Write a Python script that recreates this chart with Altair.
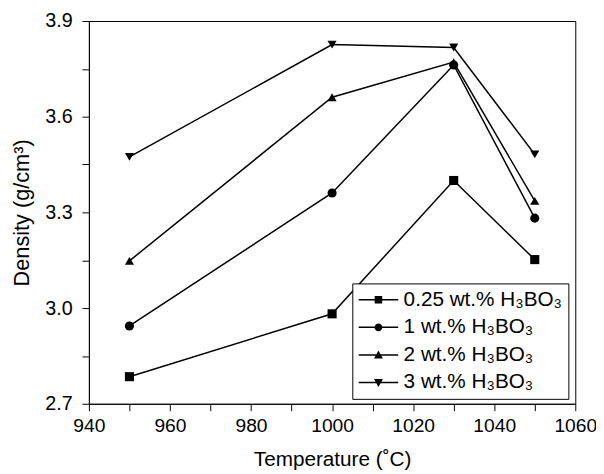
import altair as alt
import pandas as pd

temps = [950, 1000, 1030, 1050]
series_names = ["0.25 wt.% H₃BO₃", "1 wt.% H₃BO₃", "2 wt.% H₃BO₃", "3 wt.% H₃BO₃"]
d025 = [2.785, 2.982, 3.400, 3.152]
d1 = [2.944, 3.361, 3.762, 3.282]
d2 = [3.148, 3.661, 3.771, 3.336]
d3 = [3.474, 3.826, 3.817, 3.482]

rows = []
for name, vals in zip(series_names, [d025, d1, d2, d3]):
    for t, v in zip(temps, vals):
        rows.append({"T": t, "D": v, "S": name})
df = pd.DataFrame(rows)

x_ticks = list(range(940, 1061, 10))
y_ticks = [round(2.7 + 0.15 * i, 2) for i in range(9)]

FONT = "Liberation Sans"

x = alt.X("T:Q", scale=alt.Scale(domain=[940, 1060], nice=False, zero=False),
          axis=alt.Axis(title="Temperature (˚C)", values=x_ticks, format="d",
                        labelExpr="datum.value % 20 == 0 ? datum.label : ''",
                        grid=False, tickSize=7, labelPadding=6, titlePadding=14,
                        labelFontSize=19.5, titleFontSize=21, labelFlush=False))
y = alt.Y("D:Q", scale=alt.Scale(domain=[2.7, 3.9], nice=False, zero=False),
          axis=alt.Axis(title="Density (g/cm³)", values=y_ticks,
                        labelExpr="(round(datum.value*100) % 30 == 0) ? format(datum.value, '.1f') : ''",
                        grid=False, tickSize=7, labelPadding=10, titlePadding=11,
                        labelFontSize=20, titleFontSize=22, labelFlush=False))

sort_order = series_names

lines = alt.Chart(df).mark_line(color="black", strokeWidth=1.5).encode(
    x=x, y=y, detail="S:N", order="T:Q")

points = alt.Chart(df).mark_point(filled=True, color="black", opacity=1, size=85).encode(
    x="T:Q", y="D:Q",
    shape=alt.Shape("S:N", sort=sort_order,
                    scale=alt.Scale(domain=series_names,
                                    range=["square", "circle", "triangle-up", "triangle-down"]),
                    legend=None))

line_part = "M-1,-0.08H3V0.08H-1Z "
paths = [
    line_part + "M0.62,-0.38H1.38V0.38H0.62Z",
    line_part + "M0.6,0A0.4,0.4 0 1,1 1.4,0A0.4,0.4 0 1,1 0.6,0Z",
    line_part + "M1,-0.45L1.45,0.36H0.55Z",
    line_part + "M1,0.45L0.55,-0.36H1.45Z",
]

legend_layer = alt.Chart(df).mark_point(filled=True, color="black", opacity=0, size=400).encode(
    x="T:Q", y="D:Q",
    shape=alt.Shape("S:N", sort=sort_order,
                    scale=alt.Scale(domain=series_names, range=paths),
                    legend=alt.Legend(title=None, orient="none", legendX=267, legendY=266,
                                      symbolSize=400, symbolOpacity=1,
                                      symbolFillColor="black", symbolStrokeColor="black",
                                      symbolStrokeWidth=0,
                                      labelFontSize=21, labelFont=FONT, labelColor="black",
                                      labelOffset=25, rowPadding=6,
                                      padding=6, strokeColor="black", fillColor="white",
                                      labelLimit=300)))

chart = alt.layer(lines, points, legend_layer).resolve_scale(shape="independent").properties(
    width=493, height=388,
    autosize=alt.AutoSizeParams(type="none"),
    padding={"left": 82, "top": 10, "right": 21, "bottom": 68},
).configure_view(stroke="black", strokeWidth=1).configure_axis(
    domainColor="black", tickColor="black", labelColor="black", titleColor="black",
    labelFont=FONT, titleFont=FONT, titleFontWeight="normal", domainWidth=1, tickWidth=1
)

chart.save("out.html", embed_options={"renderer": "svg", "actions": False})
